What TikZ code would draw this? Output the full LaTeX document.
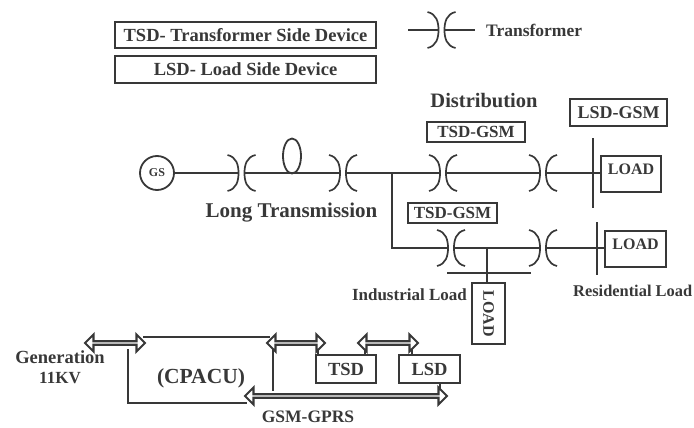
\documentclass[tikz,border=0pt]{standalone}
\usepackage{fontspec}
\setmainfont{Liberation Serif}
\usetikzlibrary{shapes.arrows, shapes.geometric}
\definecolor{inkgray}{gray}{0.22}
\tikzset{
  wire/.style={
    line width=1.7pt,
    color=inkgray
  },
  bold text/.style={
    font=\bfseries\fontsize{#1}{#1}\selectfont,
    text=inkgray,
    inner sep=0pt
  },
  label box/.style={
    bold text=#1,
    draw=inkgray,
    line width=1.8pt
  },
  link arrow/.style={
    draw=inkgray,
    fill=white,
    line width=2.1pt,
    double arrow,
    inner sep=0pt,
    minimum height=#1,
    minimum width=17pt,
    double arrow head extend=4pt,
    double arrow head indent=0pt
  },
  xfmr/.pic={
    \draw[wire] (-14,-18) .. controls (-5,-16) and (-3,-8) .. (-3,0)
      .. controls (-3,8) and (-5,16) .. (-14,18);
    \draw[wire] (14,-18) .. controls (5,-16) and (3,-8) .. (3,0)
      .. controls (3,8) and (5,16) .. (14,18);
    \coordinate (-w) at (-3,0);
    \coordinate (-e) at (3,0);
  }
}

\begin{document}
\begin{tikzpicture}[x=1pt, y=-1pt]
    \useasboundingbox (0,0) rectangle (694,428);

    % legend
    \node[label box=18.5, minimum width=261pt, minimum height=26pt] (tsdnote) at (245.5,35) {TSD- Transformer Side Device};
    \node[label box=18.5, minimum width=261pt, minimum height=27pt] (lsdnote) at (245.5,69.5) {LSD- Load Side Device};
    \pic (tnote) at (441.5,30) {xfmr};
    \coordinate (tnotea) at (408,30);
    \coordinate (tnoteb) at (475,30);
    \draw[wire] (tnotea) -- (tnote-w);
    \draw[wire] (tnote-e) -- (tnoteb);
    \node[bold text=17.5, anchor=west] (tnotetext) at (486,30) {Transformer};

    % transformers
    \foreach \name/\x/\y in {t1/241.5/173, t2/343/173, t3/443/173, t5/543/173, t4/451/248, t6/543/248} {
      \pic (\name) at (\x,\y) {xfmr};
    }

    % long transmission line
    \node[label box=12, circle, minimum size=34pt] (gs) at (157,173) {GS};
    \draw[wire] (gs) -- (t1-w);
    \draw[wire] (t1-e) -- (t2-w);
    \node[draw=inkgray, ellipse, line width=1.8pt, minimum width=18pt, minimum height=35pt, inner sep=0pt] (loop) at (292,156) {};
    \node[bold text=21] (longtext) at (291.5,213) {Long Transmission};

    % distribution
    \coordinate (branch) at (392,173);
    \coordinate (corner) at (392,248);
    \draw[wire] (t2-e) -- (t3-w);
    \draw[wire] (t3-e) -- (t5-w);
    \draw[wire] (branch) -- (corner) -- (t4-w);
    \draw[wire] (t4-e) -- (t6-w);
    \node[bold text=20.5] (disttext) at (484,101) {Distribution};
    \node[label box=17, minimum width=98pt, minimum height=20pt] (tsdgsma) at (476,132) {TSD-GSM};
    \node[label box=18, minimum width=97pt, minimum height=27pt] (lsdgsm) at (618.5,112.5) {LSD-GSM};
    \node[label box=17, minimum width=89pt, minimum height=20pt] (tsdgsmb) at (452.5,213) {TSD-GSM};

    % residential loads
    \coordinate (busatop) at (593,138);
    \coordinate (busabot) at (593,208);
    \draw[wire] (busatop) -- (busabot);
    \node[label box=16, minimum width=60pt, minimum height=36pt, text depth=10pt] (loada) at (631,174) {LOAD};
    \draw[wire] (t5-e) -- (loada.west |- t5-e);
    \coordinate (busbtop) at (597,222);
    \coordinate (busbbot) at (597,275);
    \draw[wire] (busbtop) -- (busbbot);
    \node[label box=16, minimum width=61pt, minimum height=36pt, text depth=10pt] (loadb) at (635.5,249) {LOAD};
    \draw[wire] (t6-e) -- (loadb.west |- t6-e);
    \node[bold text=16.4, anchor=west] (restext) at (573,291) {Residential Load};

    % industrial load
    \coordinate (stubtop) at (487,248);
    \coordinate (busclft) at (447,273);
    \coordinate (buscrgt) at (531,273);
    \draw[wire] (busclft) -- (buscrgt);
    \node[label box=16, minimum width=33pt, minimum height=61pt] (loadc) at (488.5,313.5) {\rotatebox{-90}{LOAD}};
    \draw[wire] (stubtop) -- (stubtop |- loadc.north);
    \node[bold text=17, anchor=east] (indtext) at (467,295) {Industrial Load};

    % control unit and links
    \node[link arrow=60pt] (arrowa) at (115,343) {};
    \node[link arrow=58pt] (arrowb) at (296,343) {};
    \node[link arrow=60pt] (arrowc) at (388,343) {};
    \node[link arrow=202pt] (arrowd) at (346,396) {};
    \node[label box=18.5, minimum width=60pt, minimum height=28pt] (tsd) at (346,369) {TSD};
    \node[label box=18.5, minimum width=61pt, minimum height=28pt] (lsd) at (429.5,369) {LSD};
    \coordinate (unitnw) at (143,337);
    \coordinate (unitne) at (270,337);
    \coordinate (unitsw) at (128,403);
    \coordinate (unitse) at (247,403);
    \coordinate (unita) at (128,349);
    \coordinate (unitb) at (273,349);
    \coordinate (unitc) at (273,391);
    \draw[wire] (unitnw) -- (unitne);
    \draw[wire] (unitb) -- (unitc);
    \draw[wire] (unita) -- (unitsw) -- (unitse);
    \draw[wire] (tsd.north -| 318,349) -- (318,349);
    \draw[wire] (tsd.north -| 365,349) -- (365,349);
    \draw[wire] (lsd.north -| 412,349) -- (412,349);
    \draw[wire] (lsd.south -| 440,390) -- (440,390);
    \node[bold text=18.5] (gentext) at (60,357) {Generation};
    \node[bold text=17] (kvtext) at (60,378) {11KV};
    \node[bold text=21.5] (cpacu) at (201,378) {(CPACU)};
    \node[bold text=17.5] (gprs) at (308,417) {GSM-GPRS};

\end{tikzpicture}
\end{document}
